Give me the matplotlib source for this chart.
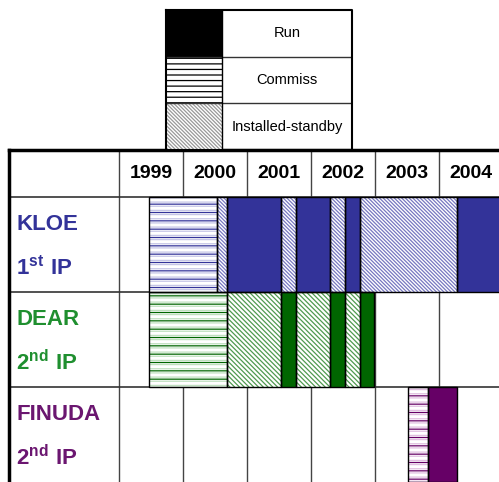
import matplotlib
matplotlib.use("Agg")
import matplotlib.pyplot as plt

plt.rcParams["font.family"] = ["Liberation Sans", "DejaVu Sans"]
plt.rcParams["mathtext.fontset"] = "custom"
plt.rcParams["mathtext.rm"] = "Liberation Sans"
plt.rcParams["mathtext.bf"] = "Liberation Sans:bold"
plt.rcParams["hatch.linewidth"] = 0.9

# Schedule data (years as decimal fractions)
years = [1999, 2000, 2001, 2002, 2003, 2004]
experiments = ["KLOE", "DEAR", "FINUDA"]
ip_labels = ["1^{st}", "2^{nd}", "2^{nd}"]
legend_phases = ["Run", "Commiss", "Installed-standby"]

kloe_phases = [
    ("Commiss", 1999.47, 2000.53),
    ("Installed-standby", 2000.53, 2000.69),
    ("Run", 2000.69, 2001.53),
    ("Installed-standby", 2001.53, 2001.77),
    ("Run", 2001.77, 2002.30),
    ("Installed-standby", 2002.30, 2002.53),
    ("Run", 2002.53, 2002.77),
    ("Installed-standby", 2002.77, 2004.28),
    ("Run", 2004.28, 2005.00),
]
dear_phases = [
    ("Commiss", 1999.47, 2000.69),
    ("Installed-standby", 2000.69, 2001.53),
    ("Run", 2001.53, 2001.77),
    ("Installed-standby", 2001.77, 2002.30),
    ("Run", 2002.30, 2002.53),
    ("Installed-standby", 2002.53, 2002.77),
    ("Run", 2002.77, 2002.98),
]
finuda_phases = [
    ("Commiss", 2003.52, 2003.83),
    ("Run", 2003.83, 2004.28),
]
all_phases = [kloe_phases, dear_phases, finuda_phases]

label_colors = ["#333399", "#1f8f2f", "#6b1670"]
run_colors = ["#333399", "#006600", "#660066"]
light_colors = ["#c5c5e6", "#bfe0bf", "#e0bfe0"]
standby_colors = ["#7777c0", "#4f9a4f", "#8c3c8c"]
standby_hatch = ["\\" * 9, "\\" * 7, "\\" * 9]


def draw_phase(ax, y, phase, start, end, i):
    w = end - start
    if phase == "Run":
        ax.barh(y, w, left=start, height=1, color=run_colors[i],
                linewidth=0, zorder=3)
    elif phase == "Commiss":
        ax.barh(y, w, left=start, height=1, color="white",
                edgecolor=light_colors[i], hatch="----", linewidth=0, zorder=3)
        ax.barh(y, w, left=start, height=1, fill=False,
                edgecolor=run_colors[i], hatch="--", linewidth=0, zorder=4)
    else:
        ax.barh(y, w, left=start, height=1, color="white",
                edgecolor=standby_colors[i], hatch=standby_hatch[i],
                linewidth=0, zorder=3)
    ax.barh(y, w, left=start, height=1, fill=False, edgecolor="black",
            linewidth=1, zorder=5)


fig = plt.figure(figsize=(4.99, 4.82), dpi=100)

# ---- main table ----
ax = fig.add_axes([9 / 499, 0, 490 / 499, 332 / 482])
x0 = 1997.28
ax.set_xlim(x0, 2004.94)
ax.set_ylim(3.5, 0)
ax.axis("off")

for yr in years:
    ax.axvline(yr, color="#444444", linewidth=1, zorder=1)
for yb in [0.5, 1.5, 2.5]:
    ax.axhline(yb, color="#333333", linewidth=1.2, zorder=1)
ax.axhline(0, color="black", linewidth=2.5, zorder=6, clip_on=False)
ax.axvline(x0, color="black", linewidth=2.5, zorder=6, clip_on=False)

for yr in years:
    ax.text(yr + 0.5, 0.25, str(yr), ha="center", va="center",
            fontsize=14, fontweight="bold", color="black")

for i, name in enumerate(experiments):
    y = i + 1
    ax.text(x0 + 0.11, y - 0.21, name, ha="left", va="center",
            fontsize=16, fontweight="bold", color=label_colors[i])
    ax.text(x0 + 0.11, y + 0.24, r"$\mathbf{" + ip_labels[i] + r"\ IP}$",
            ha="left", va="center", fontsize=16, color=label_colors[i])
    for phase, start, end in all_phases[i]:
        draw_phase(ax, y, phase, start, end, i)

# ---- legend box ----
lg = fig.add_axes([166 / 499, 1 - 150 / 482, 186 / 499, 140 / 482])
lg.set_xlim(0, 1)
lg.set_ylim(3, 0)
lg.axis("off")
sw = 0.30
lg.barh(0.5, sw, left=0, height=1, color="black", linewidth=0)
lg.barh(1.5, sw, left=0, height=1, color="white", edgecolor="black",
        hatch="---", linewidth=0)
lg.barh(2.5, sw, left=0, height=1, color="white", edgecolor="#999999",
        hatch="\\" * 9, linewidth=0)
for yb in [1, 2]:
    lg.axhline(yb, color="#333333", linewidth=1)
lg.axvline(sw, color="black", linewidth=1)
lg.plot([0, 1, 1, 0, 0], [0, 0, 3, 3, 0], color="black", linewidth=1.5,
        clip_on=False)
for j, name in enumerate(legend_phases):
    lg.text((sw + 1) / 2, j + 0.5, name, ha="center", va="center",
            fontsize=10.5, color="black")

fig.savefig("out.png", dpi=100)
